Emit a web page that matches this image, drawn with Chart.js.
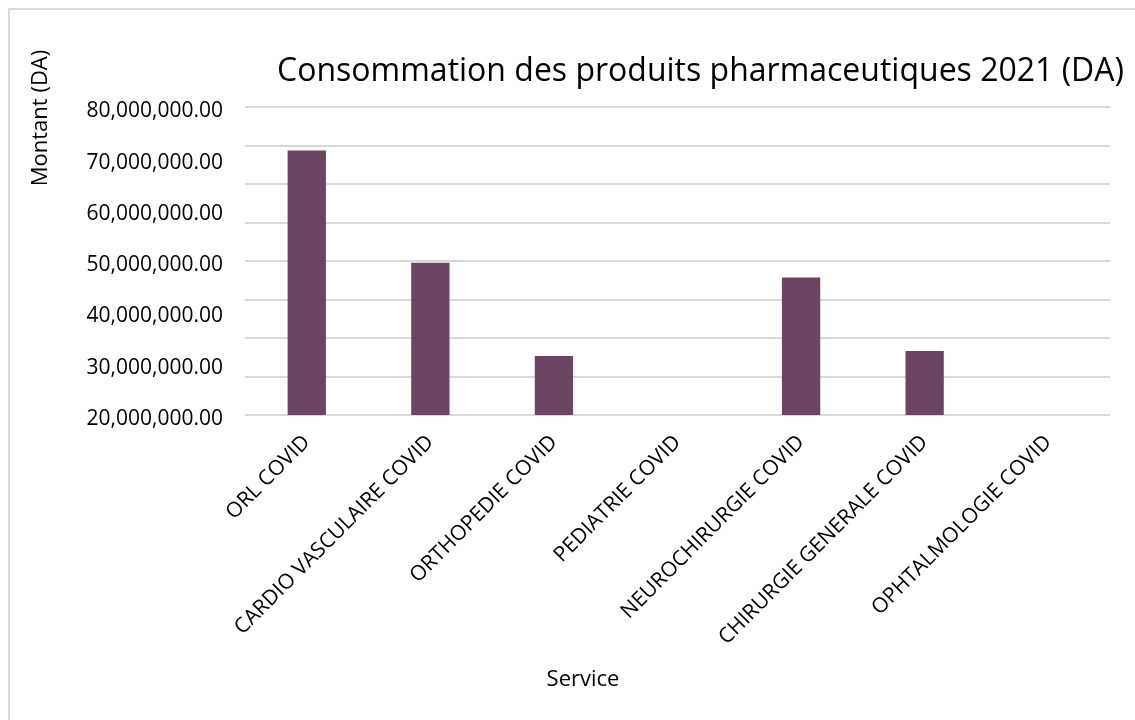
<!DOCTYPE html>
<html>
<head>
<meta charset="utf-8">
<script src="https://cdn.jsdelivr.net/npm/chart.js@4/dist/chart.umd.min.js"></script>
<style>
  body{margin:0;background:#fff;}
  #wrap{position:relative;width:1135px;height:720px;overflow:hidden;}
  #frame{position:absolute;left:8px;top:8px;width:1300px;height:900px;border-left:2px solid #d9d9d9;border-top:2px solid #d9d9d9;}
  #chart{position:absolute;left:0;top:0;}
</style>
</head>
<body>
<div id="wrap">
  <div id="frame"></div>
  <canvas id="chart" width="1135" height="720"></canvas>
</div>
<script>
var services=['ORL COVID','CARDIO VASCULAIRE COVID','ORTHOPEDIE COVID','PEDIATRIE COVID','NEUROCHIRURGIE COVID','CHIRURGIE GENERALE COVID','OPHTALMOLOGIE COVID'];
var montants=[71600000,49700000,31500000,0,46800000,32500000,0];
var yMin=20000000, yMax=80000000, yStep=10000000;
var gridLines=8; // nb d'intervalles du quadrillage

var fmt=function(v){
  return v.toLocaleString('en-US',{minimumFractionDigits:2,maximumFractionDigits:2});
};

// titres des axes
var axisTitles={
  id:'axisTitles',
  afterDraw:function(chart){
    var ctx=chart.ctx;
    ctx.save();
    ctx.fillStyle='#000';
    ctx.font='22px "Open Sans"';
    ctx.textAlign='center';
    ctx.textBaseline='middle';
    ctx.fillText('Service',583,680);
    ctx.translate(41,118);
    ctx.rotate(-Math.PI/2);
    ctx.fillText('Montant (DA)',0,0);
    ctx.restore();
  }
};

var ctx=document.getElementById('chart').getContext('2d');
var chart=new Chart(ctx,{
  type:'bar',
  data:{
    labels:services,
    datasets:[{
      label:'Montant',
      data:montants,
      backgroundColor:'#6b4562',
      borderWidth:0,
      categoryPercentage:1,
      barPercentage:0.31
    }]
  },
  options:{
    responsive:false,
    animation:false,
    layout:{padding:{left:0,right:11,top:0,bottom:0}},
    plugins:{
      legend:{display:false},
      tooltip:{enabled:false},
      title:{
        display:true,
        text:'Consommation des produits pharmaceutiques 2021 (DA)',
        align:'end',
        color:'#000',
        font:{family:'"Open Sans"',size:32,weight:'normal',lineHeight:1.2},
        padding:{top:53,bottom:16}
      }
    },
    scales:{
      x:{
        grid:{display:false},
        border:{display:false},
        ticks:{
          color:'#000',
          font:{family:'"Open Sans"',size:21},
          minRotation:45,maxRotation:45,
          padding:7
        },
        afterFit:function(s){s.height=305;}
      },
      y:{
        min:yMin,max:yMax,
        grid:{display:false,drawTicks:false},
        border:{display:false},
        ticks:{
          stepSize:yStep,
          color:'#000',
          font:{family:'"Open Sans"',size:21},
          padding:22,
          labelOffset:4,
          callback:function(v){return fmt(v);}
        },
        afterFit:function(s){s.width=245;}
      },
      quad:{
        position:'right',
        min:0,max:gridLines,
        grid:{color:'#d9d9d9',lineWidth:2,drawTicks:false},
        border:{display:false},
        ticks:{display:false,stepSize:1},
        afterFit:function(s){s.width=14;}
      }
    }
  },
  plugins:[axisTitles]
});
</script>
</body>
</html>
